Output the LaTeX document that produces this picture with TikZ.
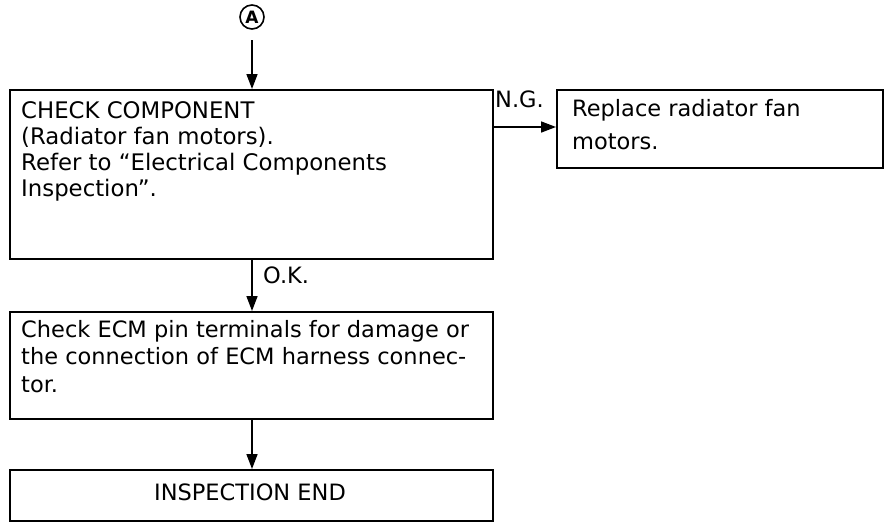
\documentclass[tikz,border=0pt]{standalone}
\usepackage{fontspec}
\setmainfont{DejaVu Sans}
\usetikzlibrary{arrows.meta,positioning}
\begin{document}
\begin{tikzpicture}[x=1pt,y=-1pt,
  box/.style={draw,line width=2pt,rectangle,inner sep=0pt,anchor=north west},
  txt/.style={anchor=base west,inner sep=0pt,align=left},
  lbl/.style={inner sep=0pt,font=\fontsize{22.5}{27}\selectfont},
  arr/.style={line width=1.6pt,-{Triangle[length=15pt,width=11pt]}}]
\useasboundingbox (0,0) rectangle (896,530);
\node[draw,circle,line width=1.6pt,minimum size=24pt,inner sep=0pt,font=\bfseries\fontsize{17}{17}\selectfont] (A) at (252,17) {A};
\node[box,minimum width=483pt,minimum height=169pt] (b1) at (9,89) {};
\node[txt,font=\fontsize{22.8}{26}\selectfont] (t1) at (21,196) {CHECK COMPONENT\\(Radiator fan motors).\\Refer to ``Electrical Components\\Inspection''.};
\node[box,minimum width=326pt,minimum height=78pt] (b2) at (556,89) {};
\node[txt,font=\fontsize{22.5}{33}\selectfont] (t2) at (572,149) {Replace radiator fan\\motors.};
\node[box,minimum width=483pt,minimum height=107pt] (b3) at (9,311) {};
\node[txt,font=\fontsize{22.5}{27.5}\selectfont] (t3) at (21,392) {Check ECM pin terminals for damage or\\the connection of ECM harness connec-\\tor.};
\node[box,minimum width=483pt,minimum height=51pt] (b4) at (9,469) {};
\node[lbl,anchor=base] (t4) at (250,500) {INSPECTION END};
\coordinate (a0) at (252,40);
\draw[arr] (a0) -- (b1.north -| a0);
\draw[arr] (b1.south -| a0) -- (b3.north -| a0);
\node[lbl,anchor=base west] (ok) at (263,283) {O.K.};
\draw[arr] (b3.south -| a0) -- (b4.north -| a0);
\coordinate (n0) at (492,127);
\draw[arr] (n0) -- (b2.west |- n0);
\node[lbl,anchor=base west] (ng) at (495,107) {N.G.};
\end{tikzpicture}
\end{document}
